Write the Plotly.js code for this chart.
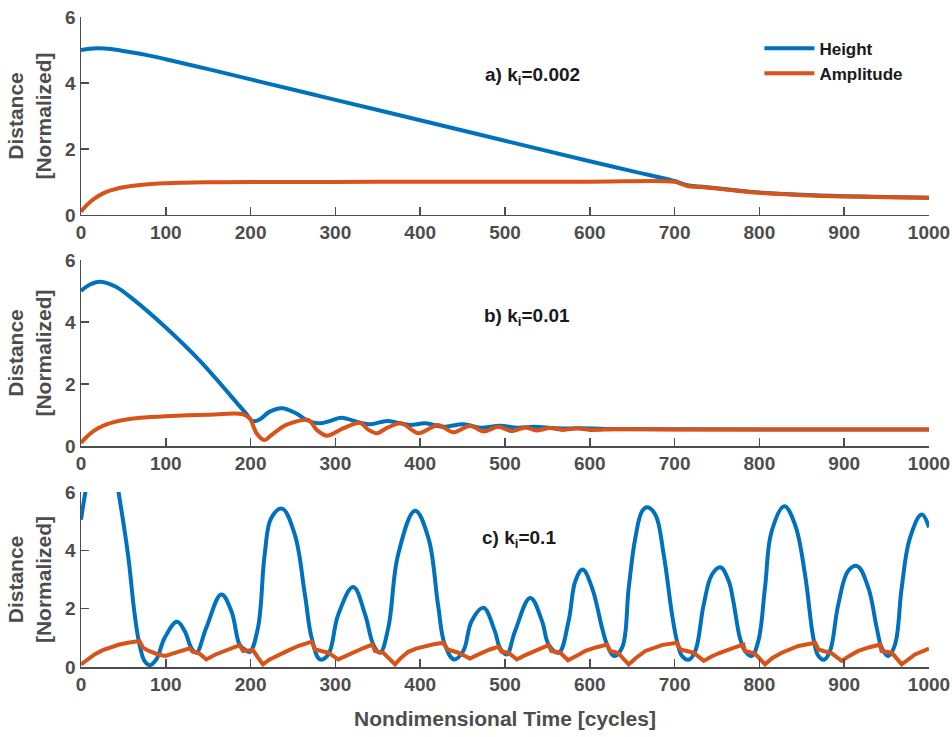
<!DOCTYPE html>
<html>
<head>
<meta charset="utf-8">
<script src="https://cdn.plot.ly/plotly-3.0.1.min.js"></script>
<style>html,body{margin:0;padding:0;background:#fff;}#chart{width:952px;height:737px;}</style>
</head>
<body>
<div id="chart"></div>
<script>
// ---------- data ----------
const xTickVals = [0,100,200,300,400,500,600,700,800,900,1000];
const yTickVals = [0,2,4,6];
const seriesNames = ["Height","Amplitude"];
const panelLabels = ["a) k<sub>i</sub>=0.002","b) k<sub>i</sub>=0.01","c) k<sub>i</sub>=0.1"];

// a) ki = 0.002
const tA_height = [0,10,20,35,50,75,100,150,200,300,400,500,600,650,700,705,715,730,750,775,800,850,900,950,1000];
const hA_height = [5.0,5.04,5.05,5.03,4.97,4.86,4.72,4.42,4.11,3.49,2.87,2.25,1.63,1.33,1.03,0.99,0.90,0.86,0.81,0.74,0.68,0.61,0.57,0.545,0.525];
const tA_amp = [0,5,10,20,30,40,50,70,100,150,200,300,400,500,600,700,705,715,730,750,775,800,850,900,950,1000];
const hA_amp = [0.1,0.25,0.38,0.57,0.7,0.78,0.84,0.91,0.96,0.99,1.0,1.0,1.01,1.01,1.01,1.01,0.97,0.88,0.85,0.8,0.73,0.67,0.6,0.56,0.54,0.52];

// b) ki = 0.01
const tB_height = [0,10,22,40,62,100,140,193,203,212,222,237,254,266,282,295,307,329,341,361,375,388,406,427,451,471,494,515,535,560,590,620,700,800,1000];
const hB_height = [5.0,5.2,5.3,5.15,4.72,3.82,2.75,1.1,0.8,0.88,1.1,1.22,1.05,0.84,0.73,0.82,0.91,0.75,0.7,0.81,0.74,0.68,0.73,0.62,0.7,0.59,0.65,0.59,0.62,0.57,0.57,0.55,0.54,0.535,0.53];
const tB_amp = [0,5,10,20,30,40,50,70,100,150,190,199,207,216,227,242,268,278,290,309,329,339,349,362,378,398,421,439,459,475,492,508,524,537,553,569,585,600,630,700,800,1000];
const hB_amp = [0.1,0.25,0.38,0.57,0.7,0.78,0.84,0.91,0.96,1.01,1.03,0.89,0.41,0.19,0.41,0.68,0.84,0.52,0.33,0.57,0.75,0.52,0.41,0.6,0.73,0.41,0.68,0.44,0.65,0.47,0.62,0.48,0.6,0.5,0.58,0.52,0.57,0.52,0.54,0.535,0.53,0.53];

// c) ki = 0.1
const tC_height = [0,5,12,25,37,44.4,55.4,63.3,69,75,81,88.8,98.7,113.2,122.3,130,136,147.8,165.5,177.3,187,193,199,208.7,216.6,224.4,237,252,264,272,281.8,291.6,303.4,321,335,344.7,352.6,362.4,374,394,409.6,421,429,440,450.8,460.7,474.4,488,494,502,511.8,529.8,543.6,551.5,563.3,575,583,591.6,602.6,614.4,620.3,628.2,638,645.9,653.7,661.6,667.5,677.2,687.1,697,702.8,708.7,716.6,724.4,734.3,744.1,754,763.8,769.2,777,783,791,798.7,806.6,814.5,829.4,842,853.8,863.6,869.5,876.2,883.3,893,904.8,915.4,928.4,938.3,944.2,952,959.9,967.8,977.6,991.4,1000];
const hC_height = [5.05,5.97,7.1,7.9,7.2,5.97,3.86,1.8,0.77,0.2,0.06,0.26,1.0,1.55,1.23,0.66,0.49,1.35,2.49,1.92,0.77,0.6,0.52,1.35,3.86,5.11,5.43,4.55,2.49,1.0,0.26,0.43,1.8,2.74,1.8,0.77,0.49,1.35,3.86,5.36,4.43,2.14,0.77,0.26,0.55,1.58,2.03,1.23,0.66,0.43,1.23,2.37,1.58,0.77,0.49,1.58,2.95,3.34,2.72,1.35,0.77,0.38,0.66,2.72,4.43,5.34,5.48,5.23,3.86,1.8,0.89,0.38,0.25,0.55,2.14,3.17,3.42,2.95,2.26,1.0,0.55,0.38,0.89,2.72,4.66,5.51,4.88,3.17,1.0,0.38,0.25,0.55,2.14,3.3,3.46,2.72,1.35,0.66,0.38,0.77,2.72,4.43,5.23,4.79];
const tC_amp = [0,8,16,25,35.8,45,55.4,69,73,80,90.8,99.5,107,114.4,128,132,138,143,147.8,158,169.4,178,187,191,197,202.8,208.7,214.6,222,232.3,244,256,272,276,284,291.6,303.4,312,323,333,343.5,346.7,356.5,363,370.3,377,386,395,405.7,416,427.2,432.4,445,458.7,465,472.5,482,492,496,504,514,522,531.8,541,551.5,554.6,565.2,574.3,584,594.7,607,620.3,624,633,645.9,654,665.5,685,702.8,706.7,722.5,734.3,743,752,767.8,781,783,794.8,806.6,815,826.3,846,865.6,869.5,885.2,897,906,916.6,929,942.2,944,956,967.8,975,983.5,1000];
const hC_amp = [0.09,0.28,0.43,0.57,0.69,0.77,0.83,0.89,0.66,0.55,0.43,0.38,0.45,0.52,0.64,0.52,0.49,0.38,0.26,0.42,0.55,0.65,0.75,0.55,0.55,0.58,0.32,0.09,0.25,0.38,0.56,0.72,0.87,0.6,0.53,0.49,0.26,0.38,0.52,0.65,0.77,0.55,0.49,0.3,0.09,0.3,0.52,0.63,0.72,0.78,0.83,0.6,0.49,0.29,0.38,0.49,0.6,0.69,0.52,0.49,0.26,0.38,0.49,0.62,0.75,0.55,0.49,0.23,0.38,0.55,0.67,0.77,0.55,0.49,0.09,0.3,0.55,0.75,0.83,0.6,0.49,0.21,0.35,0.47,0.64,0.77,0.55,0.46,0.09,0.3,0.49,0.72,0.83,0.6,0.47,0.21,0.38,0.55,0.67,0.77,0.55,0.49,0.09,0.25,0.43,0.63];

// ---------- styling ----------
const BLUE = '#0072BD', RED = '#D95319';
const AX = '#4d4d4d', TXT = '#1a1a1a';
const FONT = 'Liberation Sans, Arial, Helvetica, sans-serif';
const LW = 4;

function tr(x, y, color, name, axn, legend, shape, sm) {
  return {
    type: 'scatter', mode: 'lines', x: x, y: y, name: name,
    xaxis: 'x' + (axn === 1 ? '' : axn), yaxis: 'y' + (axn === 1 ? '' : axn),
    line: {color: color, width: LW, shape: shape, smoothing: sm},
    showlegend: legend, hoverinfo: 'skip'
  };
}

const data = [
  tr(tA_height, hA_height, BLUE, seriesNames[0], 1, true, 'spline', 1.0),
  tr(tA_amp, hA_amp, RED, seriesNames[1], 1, true, 'spline', 1.0),
  tr(tB_height, hB_height, BLUE, seriesNames[0], 2, false, 'spline', 1.0),
  tr(tB_amp, hB_amp, RED, seriesNames[1], 2, false, 'spline', 0.8),
  tr(tC_height, hC_height, BLUE, seriesNames[0], 3, false, 'spline', 1.1),
  tr(tC_amp, hC_amp, RED, seriesNames[1], 3, false, 'linear', 0)
];

function xax(anchor, title) {
  const o = {
    anchor: anchor, domain: [0, 1], range: [0, 1000],
    tickmode: 'array', tickvals: xTickVals, ticktext: xTickVals.map(String),
    showline: true, linecolor: AX, linewidth: 1.5,
    ticks: 'inside', ticklen: 8, tickwidth: 1.5, tickcolor: AX,
    showgrid: false, zeroline: false,
    tickfont: {family: FONT, size: 19, color: AX, weight: 'bold'}
  };
  if (title) o.title = {text: title, font: {family: FONT, size: 21, color: AX, weight: 'bold'}, standoff: 17};
  return o;
}
function yax(anchor, dom) {
  return {
    anchor: anchor, domain: dom, range: [0, 6],
    tickmode: 'array', tickvals: yTickVals, ticktext: yTickVals.map(String),
    showline: true, linecolor: AX, linewidth: 1.5,
    ticks: 'inside', ticklen: 8, tickwidth: 1.5, tickcolor: AX,
    showgrid: false, zeroline: false,
    tickfont: {family: FONT, size: 19, color: AX, weight: 'bold'},
    title: {text: 'Distance<br>[Normalized]', font: {family: FONT, size: 21, color: AX, weight: 'bold'}, standoff: 8}
  };
}

function ann(text, xr, yr, x, y) {
  return {text: text, xref: xr, yref: yr, x: x, y: y, showarrow: false,
    font: {family: FONT, size: 19, color: TXT, weight: 'bold'}, xanchor: 'center', yanchor: 'middle'};
}

const layout = {
  width: 952, height: 737,
  margin: {l: 81, r: 23, t: 17, b: 70},
  paper_bgcolor: '#fff', plot_bgcolor: '#fff',
  font: {family: FONT},
  showlegend: true,
  legend: {x: 0.80, y: 0.979, xanchor: 'left', yanchor: 'top', bgcolor: 'rgba(0,0,0,0)',
    font: {family: FONT, size: 17, color: TXT, weight: 'bold'}, tracegroupgap: 0, itemwidth: 50},
  xaxis: xax('y'), yaxis: yax('x', [0.6954, 1]),
  xaxis2: xax('y2'), yaxis2: yax('x2', [0.34, 0.6262]),
  xaxis3: xax('y3', 'Nondimensional Time [cycles]'), yaxis3: yax('x3', [0, 0.2692]),
  annotations: [
    ann(panelLabels[0], 'x', 'y', 533, 4.2),
    ann(panelLabels[1], 'x2', 'y2', 526, 4.15),
    ann(panelLabels[2], 'x3', 'y3', 517, 4.4)
  ]
};

Plotly.newPlot('chart', data, layout, {staticPlot: true, displayModeBar: false});
</script>
</body>
</html>
